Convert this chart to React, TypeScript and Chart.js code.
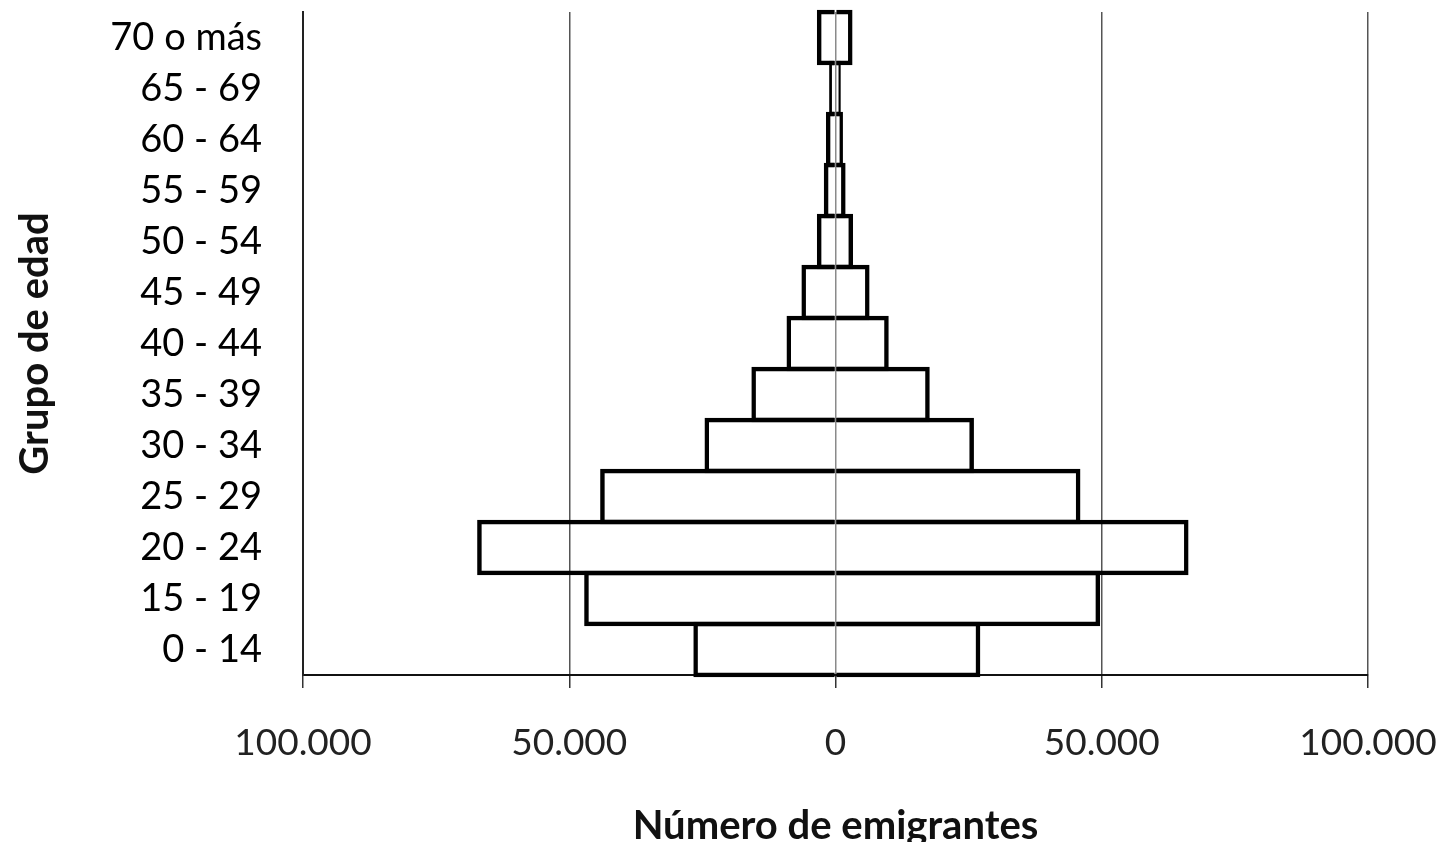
import React, { useEffect, useRef } from "react";
import { Chart, registerables } from "chart.js";

Chart.register(...registerables);

const categories = [
  "70 o más",
  "65 - 69",
  "60 - 64",
  "55 - 59",
  "50 - 54",
  "45 - 49",
  "40 - 44",
  "35 - 39",
  "30 - 34",
  "25 - 29",
  "20 - 24",
  "15 - 19",
  "0 - 14",
];

const leftValues = [
  -3500, -1200, -1800, -2200, -3500, -6400, -9200, -15800, -24600, -44200, -67300, -47200, -26700,
];

const rightValues = [
  3200, 1000, 1400, 1900, 3300, 6400, 10000, 17700, 26000, 46000, 66300, 49700, 27200,
];

const xTickValues = [-100000, -50000, 0, 50000, 100000];

const xTitle = "Número de emigrantes";
const yTitle = "Grupo de edad";

function formatThousands(v: number): string {
  const s = String(Math.round(Math.abs(v)));
  return s.replace(/\B(?=(\d{3})+(?!\d))/g, ".");
}

export default function App() {
  const canvasRef = useRef<HTMLCanvasElement | null>(null);

  useEffect(() => {
    document.body.style.margin = "0";
    const canvas = canvasRef.current;
    if (!canvas) return;
    const borderW = 4.5;
    const chart = new Chart(canvas, {
      type: "bar",
      data: {
        labels: categories,
        datasets: [
          {
            label: "Izquierda",
            data: leftValues,
            backgroundColor: "rgba(255,255,255,0)",
            borderColor: "#000",
            borderWidth: borderW,
            borderSkipped: "start",
            barPercentage: 1.088,
            categoryPercentage: 1,
            clip: false as any,
          },
          {
            label: "Derecha",
            data: rightValues,
            backgroundColor: "rgba(255,255,255,0)",
            borderColor: "#000",
            borderWidth: borderW,
            borderSkipped: "start",
            barPercentage: 1.088,
            categoryPercentage: 1,
            clip: false as any,
          },
        ],
      },
      options: {
        indexAxis: "y",
        responsive: false,
        animation: false,
        devicePixelRatio: 1,
        layout: { padding: { top: 12, right: 85, left: 0, bottom: 0 } },
        plugins: {
          legend: { display: false },
          tooltip: { enabled: false },
        },
        scales: {
          x: {
            stacked: true,
            min: xTickValues[0],
            max: xTickValues[xTickValues.length - 1],
            afterBuildTicks: (scale: any) => {
              scale.ticks = xTickValues.map((v) => ({ value: v }));
            },
            afterFit: (scale: any) => {
              scale.height = 167;
              scale.paddingLeft = 0;
              scale.paddingRight = 0;
            },
            ticks: {
              padding: 33,
              color: "#222",
              font: { family: "Lato", size: 37 },
              maxRotation: 0,
              autoSkip: false,
              callback: (v: any) => formatThousands(Number(v)),
            },
            grid: {
              display: true,
              drawTicks: true,
              tickLength: 13,
              color: (ctx: any) => (ctx.tick && ctx.tick.value === 0 ? "#8a8a8a" : "#555"),
              lineWidth: 1.5,
              tickColor: "#333",
              tickWidth: 1.5,
            },
            border: { display: true, color: "#111", width: 2 },
            title: {
              display: true,
              text: xTitle,
              color: "#111",
              font: { family: "Lato", size: 40, weight: "bold", lineHeight: 0.8 },
              padding: { top: 0, bottom: 0 },
            },
          },
          y: {
            stacked: true,
            afterFit: (scale: any) => {
              scale.width = 303;
              scale.paddingTop = 0;
              scale.paddingBottom = 0;
            },
            ticks: {
              padding: 41,
              color: "#000",
              font: { family: "Lato", size: 38 },
              autoSkip: false,
            },
            grid: { display: false, drawTicks: false },
            border: { display: true, color: "#222", width: 2 },
            title: {
              display: true,
              text: yTitle,
              color: "#111",
              font: { family: "Lato", size: 40, weight: "bold", lineHeight: 1.2 },
              padding: { top: 11, bottom: 0 },
            },
          },
        },
      },
    });
    return () => chart.destroy();
  }, []);

  return (
    <div style={{ position: "absolute", left: 0, top: 0, width: 1453, height: 842, background: "#fff" }}>
      <canvas ref={canvasRef} width={1453} height={842} />
    </div>
  );
}
